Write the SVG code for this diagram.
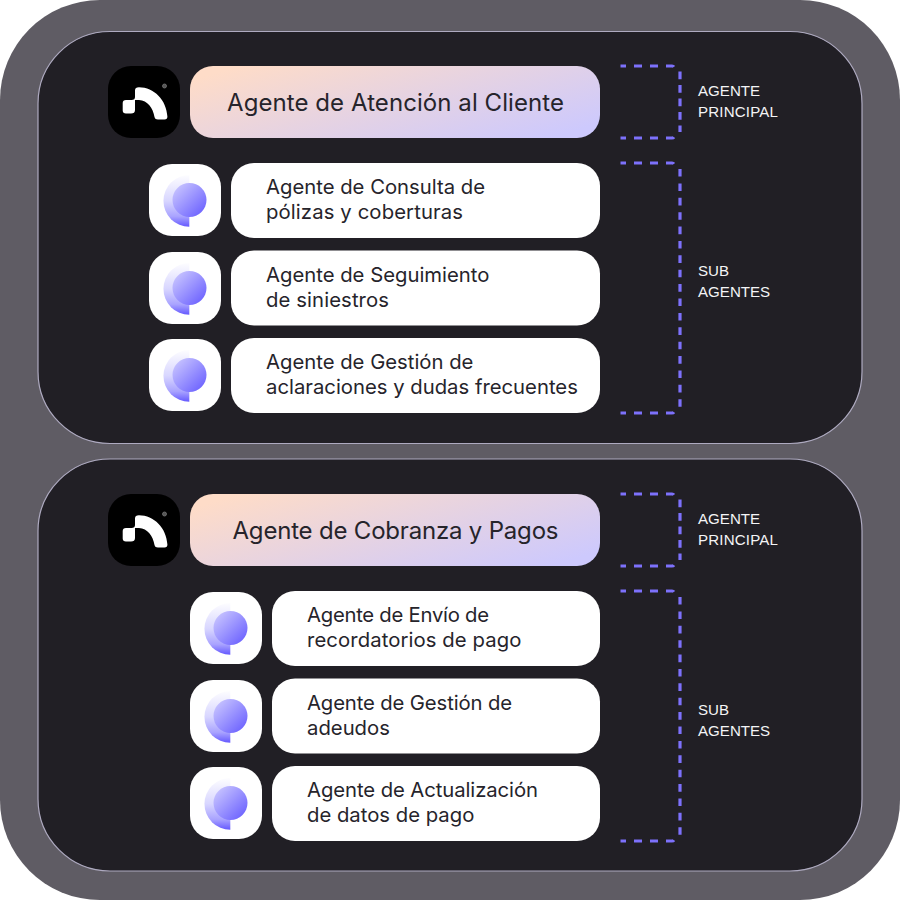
<svg xmlns="http://www.w3.org/2000/svg" width="900" height="900" viewBox="0 0 900 900">
<style>
.panel{fill:#211f25;stroke:#aeaac0;stroke-width:1.2}
.row{fill:#fff}
.t{font-family:Inter,"Liberation Sans",sans-serif;fill:#26242b;font-size:20.3px}
.m{font-family:Inter,"Liberation Sans",sans-serif;fill:#26242b;font-size:24px;text-anchor:middle}
.l{font-family:"Liberation Sans",Arial,sans-serif;fill:#f4f4f6;font-size:15.1px}
.h,.s,.v{fill:none;stroke:#7d71fc;stroke-width:3.2}
.h{stroke-dasharray:8 8;stroke-dashoffset:2.500}
.s{stroke-dasharray:7.800 5.700}
.v{stroke-dasharray:7.600 6.790}
</style>
<defs>
<linearGradient id="g" x1="0" y1="0.2" x2="1" y2="0.8"><stop offset="0" stop-color="#fedcc8"/><stop offset="1" stop-color="#cdc9fd"/></linearGradient>
<linearGradient id="o" x1="0.75" y1="0" x2="0.75" y2="1"><stop offset="0" stop-color="#fdfdff"/><stop offset="0.2" stop-color="#eeedff"/><stop offset="0.5" stop-color="#d8d6ff"/><stop offset="0.8" stop-color="#a9a3ff"/><stop offset="1" stop-color="#6559ff"/></linearGradient>
<linearGradient id="i" x1="0" y1="0" x2="1" y2="1"><stop offset="0" stop-color="#d2cfff"/><stop offset="1" stop-color="#6257ff"/></linearGradient>
<g id="logo">
<rect width="72" height="72" rx="23" fill="#000"/>
<path d="M27 24.500Q27 21.300 31 21.300C46 21.300 58.500 34 59.400 50.500Q59.500 53.500 56.500 53.500L50 53.500Q47 53.500 46.500 51C45 42 39.500 34.500 31 34L27 34L27 44Q27 47.500 23 47.500L18 47.500Q14.700 47.500 14.700 44.500L14.700 37Q14.700 34 18 34L23.500 34Q27 34 27 31Z" fill="#fff"/>
<circle cx="56.500" cy="20" r="2" fill="#555" stroke="#777" stroke-width="0.8"/>
</g>
<g id="bubble">
<rect width="72" height="72" rx="23" fill="#fff"/>
<path d="M40.300 11A25.850 25.850 0 0 0 40.300 62.700Z" fill="url(#o)"/>
<circle cx="40.500" cy="36" r="17" fill="url(#i)"/>
</g>
</defs>
<rect width="900" height="900" fill="#fff"/>
<rect width="900" height="900" rx="100" fill="#5f5c64"/>
<g id="panel-1"><rect class="panel" x="38" y="31.500" width="824" height="412" rx="72"/></g>
<g id="panel-2"><rect class="panel" x="38" y="459" width="824" height="412" rx="72"/></g>
<g id="connectors">
<path class="h" d="M620.500 66H672Q673.500 66 674 67"/>
<path class="s" d="M680 71.500V132"/>
<path class="h" d="M620.500 138H672Q673.500 138 674 137"/>
<path class="h" d="M620.500 163H672Q673.500 163 674 164"/>
<path class="v" d="M680 169V407"/>
<path class="h" d="M620.500 413H672Q673.500 413 674 412"/>
<path class="h" d="M620.500 494H672Q673.500 494 674 495"/>
<path class="s" d="M680 499.500V560"/>
<path class="h" d="M620.500 566H672Q673.500 566 674 565"/>
<path class="h" d="M620.500 591H672Q673.500 591 674 592"/>
<path class="v" d="M680 597V835"/>
<path class="h" d="M620.500 841H672Q673.500 841 674 840"/>
</g>
<g id="main-1"><use href="#logo" x="108" y="66"/><rect x="190" y="66" width="410" height="72" rx="23" fill="url(#g)"/><text class="m" x="395.500" y="110.500" textLength="337">Agente de Atención al Cliente</text></g>
<g id="sub-1-1"><use href="#bubble" x="149" y="164"/><rect class="row" x="231" y="163" width="369" height="75" rx="23"/><text class="t" x="266" y="194">Agente de Consulta de</text><text class="t" x="266" y="219" textLength="197">pólizas y coberturas</text></g>
<g id="sub-1-2"><use href="#bubble" x="149" y="252"/><rect class="row" x="231" y="250.500" width="369" height="75" rx="23"/><text class="t" x="266" y="282">Agente de Seguimiento</text><text class="t" x="266" y="307" textLength="123">de siniestros</text></g>
<g id="sub-1-3"><use href="#bubble" x="149" y="339"/><rect class="row" x="231" y="338" width="369" height="75" rx="23"/><text class="t" x="266" y="369">Agente de Gestión de</text><text class="t" x="266" y="394">aclaraciones y dudas frecuentes</text></g>
<g id="main-2"><use href="#logo" x="108" y="494"/><rect x="190" y="494" width="410" height="72" rx="23" fill="url(#g)"/><text class="m" x="395.500" y="538.500" textLength="326">Agente de Cobranza y Pagos</text></g>
<g id="sub-2-1"><use href="#bubble" x="190" y="592"/><rect class="row" x="272" y="591" width="328" height="75" rx="23"/><text class="t" x="307" y="622" textLength="182">Agente de Envío de</text><text class="t" x="307" y="647" textLength="214.500">recordatorios de pago</text></g>
<g id="sub-2-2"><use href="#bubble" x="190" y="680"/><rect class="row" x="272" y="678.500" width="328" height="75" rx="23"/><text class="t" x="307" y="710" textLength="205">Agente de Gestión de</text><text class="t" x="307" y="735">adeudos</text></g>
<g id="sub-2-3"><use href="#bubble" x="190" y="767"/><rect class="row" x="272" y="766" width="328" height="75" rx="23"/><text class="t" x="307" y="797" textLength="231">Agente de Actualización</text><text class="t" x="307" y="822">de datos de pago</text></g>
<g id="labels">
<text class="l" x="698" y="96">AGENTE</text><text class="l" x="698" y="117" textLength="80">PRINCIPAL</text>
<text class="l" x="698" y="276">SUB</text><text class="l" x="698" y="297">AGENTES</text>
<text class="l" x="698" y="524">AGENTE</text><text class="l" x="698" y="545" textLength="80">PRINCIPAL</text>
<text class="l" x="698" y="715">SUB</text><text class="l" x="698" y="736">AGENTES</text>
</g>
</svg>
